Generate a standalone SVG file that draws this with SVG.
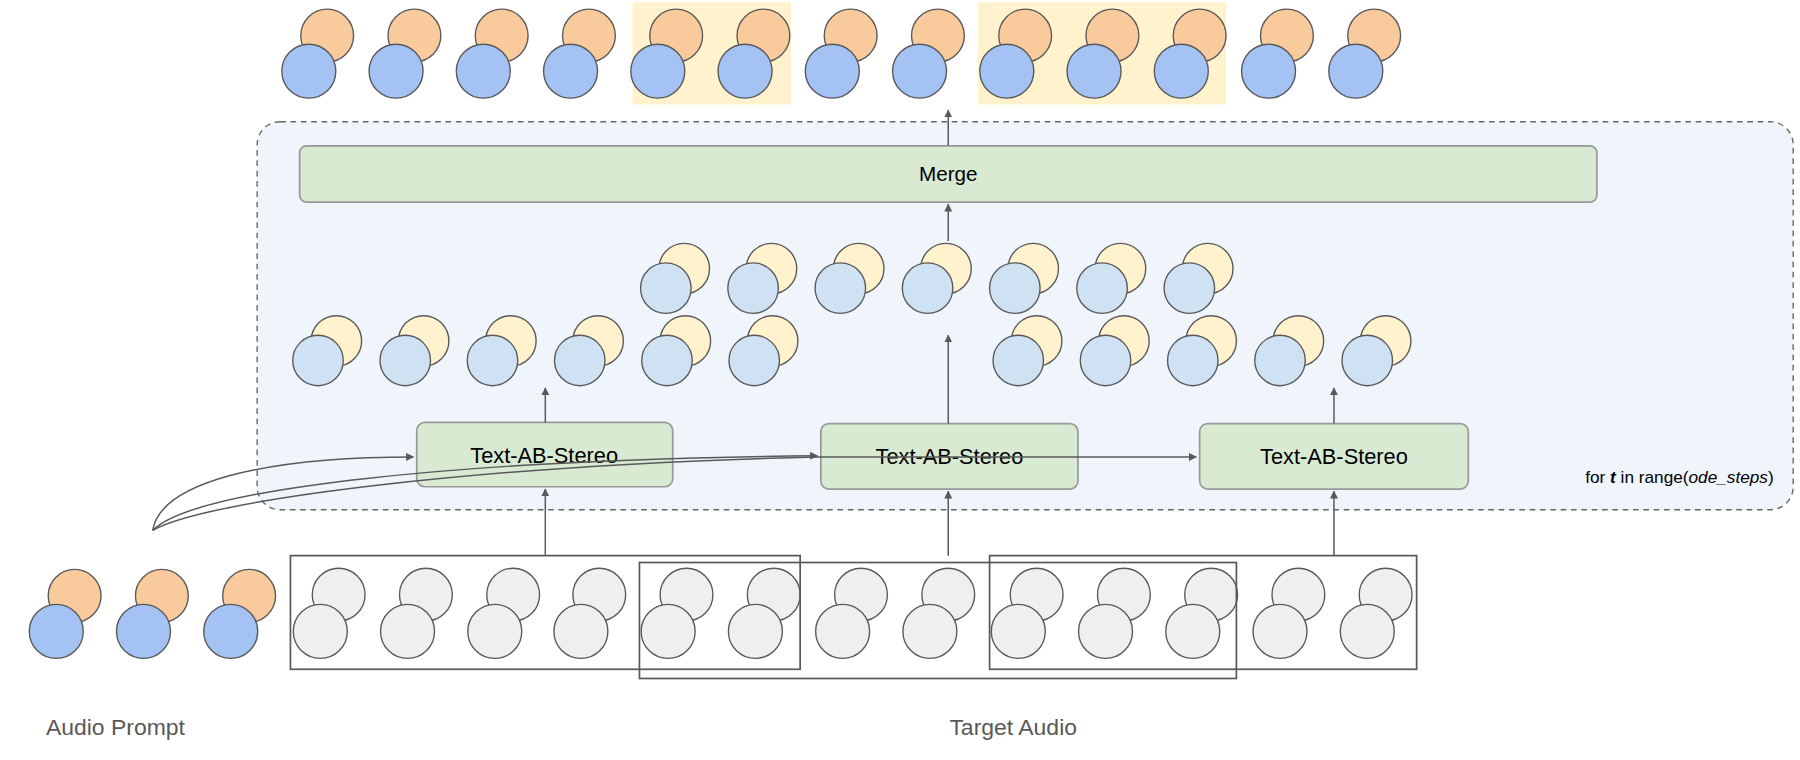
<svg xmlns="http://www.w3.org/2000/svg" xmlns:xlink="http://www.w3.org/1999/xlink" width="1800" height="760" viewBox="0 0 1800 760">
<style>
.t{font-family:"Liberation Sans",Arial,sans-serif;fill:#000}
.lbl{font-family:"Liberation Sans",Arial,sans-serif;fill:#595959;font-size:20px}
.c{stroke:#595959;stroke-width:1.2}
.or{fill:#f9cb9c}.bl{fill:#a4c2f4}.ye{fill:#fff2cc}.lb{fill:#cfe2f3}.gr{fill:#efefef}
.box{fill:#d9ead3;stroke:#999;stroke-width:1.5}
.ln{fill:none;stroke:#595959;stroke-width:1.3}
</style>
<defs>
<marker id="ah" viewBox="0 0 10 10" refX="9" refY="5" markerWidth="7" markerHeight="7" orient="auto" markerUnits="userSpaceOnUse">
<path d="M0,0 L10,5 L0,10 z" fill="#595959"/></marker>
<g id="po"><circle class="c or" cx="16" cy="-31" r="23"/><circle class="c bl" cx="0" cy="0" r="23.5"/></g>
<g id="py"><circle class="c ye" cx="16" cy="-17" r="22"/><circle class="c lb" cx="0" cy="0" r="22"/></g>
<g id="pg"><circle class="c gr" cx="16" cy="-32" r="23"/><circle class="c gr" cx="0" cy="0" r="23.5"/></g>
</defs>
<g transform="scale(1.148)">
<rect x="0" y="0" width="1568" height="662" fill="#fff"/>
<g id="loop"><rect x="224" y="106" width="1338" height="338" rx="20" fill="#f0f5fc" stroke="#666" stroke-width="1.2" stroke-dasharray="5,4"/>
<text class="t" x="1545" y="421" font-size="15" text-anchor="end" fill="#595959">for <tspan font-weight="bold" font-style="italic">t</tspan> in range(<tspan font-style="italic">ode_steps</tspan>)</text></g>
<g id="output">
<rect x="551" y="2" width="138" height="89" fill="#fff2cc"/>
<rect x="852" y="2" width="216" height="89" fill="#fff2cc"/>
<use href="#po" x="269" y="62"/><use href="#po" x="345" y="62"/><use href="#po" x="421" y="62"/><use href="#po" x="497" y="62"/><use href="#po" x="573" y="62"/><use href="#po" x="649" y="62"/><use href="#po" x="725" y="62"/><use href="#po" x="801" y="62"/><use href="#po" x="877" y="62"/><use href="#po" x="953" y="62"/><use href="#po" x="1029" y="62"/><use href="#po" x="1105" y="62"/><use href="#po" x="1181" y="62"/>
</g>
<g id="merge"><rect class="box" x="261" y="127" width="1130" height="49" rx="6"/><text class="t" x="826" y="158" font-size="18" text-anchor="middle">Merge</text></g>
<g id="mid">
<use href="#py" x="580" y="251"/><use href="#py" x="656" y="251"/><use href="#py" x="732" y="251"/><use href="#py" x="808" y="251"/><use href="#py" x="884" y="251"/><use href="#py" x="960" y="251"/><use href="#py" x="1036" y="251"/>
<use href="#py" x="277" y="314"/><use href="#py" x="353" y="314"/><use href="#py" x="429" y="314"/><use href="#py" x="505" y="314"/><use href="#py" x="581" y="314"/><use href="#py" x="657" y="314"/>
<use href="#py" x="887" y="314"/><use href="#py" x="963" y="314"/><use href="#py" x="1039" y="314"/><use href="#py" x="1115" y="314"/><use href="#py" x="1191" y="314"/>
</g>
<g id="s1"><rect class="box" x="363" y="368" width="223" height="56" rx="7"/><text class="t" x="474" y="403" font-size="19" text-anchor="middle">Text-AB-Stereo</text></g>
<g id="s2"><rect class="box" x="715" y="369" width="224" height="57" rx="7"/><text class="t" x="827" y="404" font-size="19" text-anchor="middle">Text-AB-Stereo</text></g>
<g id="s3"><rect class="box" x="1045" y="369" width="234" height="57" rx="7"/><text class="t" x="1162" y="404" font-size="19" text-anchor="middle">Text-AB-Stereo</text></g>
<g id="prompt">
<use href="#po" x="49" y="550"/><use href="#po" x="125" y="550"/><use href="#po" x="201" y="550"/>
</g>
<g id="target">
<use href="#pg" x="279" y="550"/><use href="#pg" x="355" y="550"/><use href="#pg" x="431" y="550"/><use href="#pg" x="506" y="550"/><use href="#pg" x="582" y="550"/><use href="#pg" x="658" y="550"/><use href="#pg" x="734" y="550"/><use href="#pg" x="810" y="550"/><use href="#pg" x="887" y="550"/><use href="#pg" x="963" y="550"/><use href="#pg" x="1039" y="550"/><use href="#pg" x="1115" y="550"/><use href="#pg" x="1191" y="550"/>
<rect x="253" y="484" width="444" height="99" fill="none" stroke="#595959" stroke-width="1.5"/>
<rect x="557" y="490" width="520" height="101" fill="none" stroke="#595959" stroke-width="1.5"/>
<rect x="862" y="484" width="372" height="99" fill="none" stroke="#595959" stroke-width="1.5"/>
</g>
<g id="connectors">
<path class="ln" d="M826,127 L826,96" marker-end="url(#ah)"/>
<path class="ln" d="M826,210 L826,178" marker-end="url(#ah)"/>
<path class="ln" d="M475,368 L475,338" marker-end="url(#ah)"/>
<path class="ln" d="M826,369 L826,292" marker-end="url(#ah)"/>
<path class="ln" d="M1162,369 L1162,338" marker-end="url(#ah)"/>
<path class="ln" d="M475,484 L475,426" marker-end="url(#ah)"/>
<path class="ln" d="M826,484 L826,428" marker-end="url(#ah)"/>
<path class="ln" d="M1162,484 L1162,428" marker-end="url(#ah)"/>
<path class="ln" d="M133,462 C140,420 230,398 360,398" marker-end="url(#ah)"/>
<path class="ln" d="M133,462 C170,425 400,400 712,397" marker-end="url(#ah)"/>
<path class="ln" d="M133,462 C180,435 420,405 712,398 L1042,398" marker-end="url(#ah)"/>
</g>
<text class="lbl" x="40" y="640">Audio Prompt</text>
<text class="lbl" x="827" y="640">Target Audio</text>
</g>
</svg>
